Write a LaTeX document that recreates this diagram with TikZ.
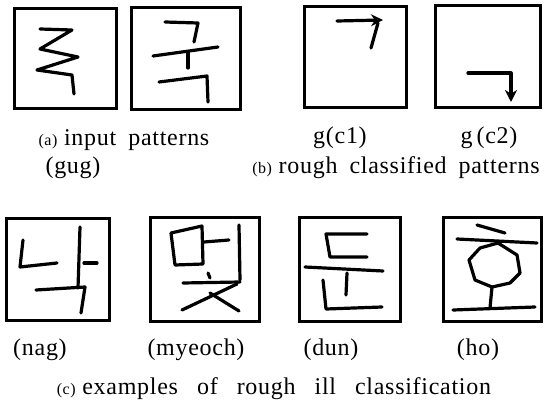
\documentclass[tikz,border=0pt]{standalone}
\usepackage{fontspec}
\setmainfont{Liberation Serif}[LetterSpace=3]
\usetikzlibrary{arrows.meta}

\newcommand{\wgap}{\hspace{12pt}}
\newcommand{\subtag}[1]{{\fontsize{16}{18}\selectfont(#1)}}

\begin{document}
\begin{tikzpicture}[x=1pt, y=-1pt,
    frame/.style={draw, line width=3pt, inner sep=0pt},
    pen/.style={line width=3.2pt, line cap=round, line join=round},
    lbl/.style={font=\fontsize{24}{28}\selectfont, inner sep=0pt}
]
    \useasboundingbox (0,0) rectangle (547,409);

    % frames of the patterns
    \node[frame, minimum width=102pt, minimum height=100pt] (gugA) at (65,59) {};
    \node[frame, minimum width=109pt, minimum height=102pt] (gugB) at (185.5,59) {};
    \node[frame, minimum width=102pt, minimum height=101pt] (cone) at (355,57.5) {};
    \node[frame, minimum width=105pt, minimum height=102pt] (ctwo) at (487.5,57) {};
    \node[frame, minimum width=103pt, minimum height=101pt] (nag) at (57.5,269.5) {};
    \node[frame, minimum width=109pt, minimum height=103pt] (myeoch) at (204.5,269.5) {};
    \node[frame, minimum width=101pt, minimum height=103pt] (dun) at (349.5,269.5) {};
    \node[frame, minimum width=98pt, minimum height=103pt] (ho) at (492,269.5) {};

    % input pattern, first try
    \draw[pen] (40,29) -- (72,30) -- (40,49) -- (78,57) -- (37,70) -- (72,75) -- (74,94);
    % input pattern, second try
    \draw[pen] (165,22) -- (198,23) -- (194,42);
    \draw[pen] (153,56) -- (218,47);
    \draw[pen] (188,52) -- (188,68);
    \draw[pen] (159,82) -- (207,76) -- (208,102);

    % rough classes
    \draw[pen, -{Stealth[length=12pt, width=12pt]}] (337,21) -- (383,20);
    \draw[pen] (378,23) -- (371,48);
    \draw[pen, -{Stealth[length=12pt, width=12pt]}] (468,73) -- (511,73) -- (511,102);

    % nag
    \draw[pen] (23,240) -- (20,267) -- (57,263);
    \draw[pen] (80,227) -- (78,288);
    \draw[pen] (84,263) -- (97,263);
    \draw[pen] (36,290) -- (85,287) -- (81,313);

    % myeoch
    \draw[pen] (171,233) -- (202,226) -- (203,264) -- (175,265) -- cycle;
    \draw[pen] (204,242) -- (229,240);
    \draw[pen] (239,225) -- (240,280);
    \draw[pen] (208,273) -- (210,278);
    \draw[pen] (183,283) -- (240,282);
    \draw[pen] (237,284) -- (182,310);
    \draw[pen] (210,293) -- (239,311);

    % dun
    \draw[pen] (367,234) -- (326,234) -- (330,257) -- (367,257);
    \draw[pen] (305,267) -- (383,271);
    \draw[pen] (347,273) -- (346,295);
    \draw[pen] (323,280) -- (326,309) -- (382,307);

    % ho
    \draw[pen] (477,225) -- (505,233);
    \draw[pen] (457,239) -- (537,243);
    \draw[pen] (498,243) -- (517,255) -- (520,273) -- (510,283) -- (492,287)
        -- (475,280) -- (469,260) -- (480,248) -- cycle;
    \draw[pen] (492,287) -- (490,308);
    \draw[pen] (453,310) -- (535,307);

    % captions
    \node[lbl] (capA) at (124,140) {\subtag{a} input\wgap patterns};
    \node[lbl] (capGug) at (73,168) {(gug)};
    \node[lbl] (capCone) at (340,138) {g(c1)};
    \node[lbl] (capCtwo) at (489,138) {g\,(c2)};
    \node[lbl] (capB) at (396,168) {\subtag{b} rough\wgap classified\wgap patterns};
    \node[lbl] (capNag) at (40,350) {(nag)};
    \node[lbl] (capMyeoch) at (196,350) {(myeoch)};
    \node[lbl] (capDun) at (331,350) {(dun)};
    \node[lbl] (capHo) at (478,350) {(ho)};
    \node[lbl] (capC) at (274,389) {\subtag{c} examples\hspace{19pt}of\hspace{19pt}rough\hspace{19pt}ill\hspace{19pt}classification};
\end{tikzpicture}
\end{document}
